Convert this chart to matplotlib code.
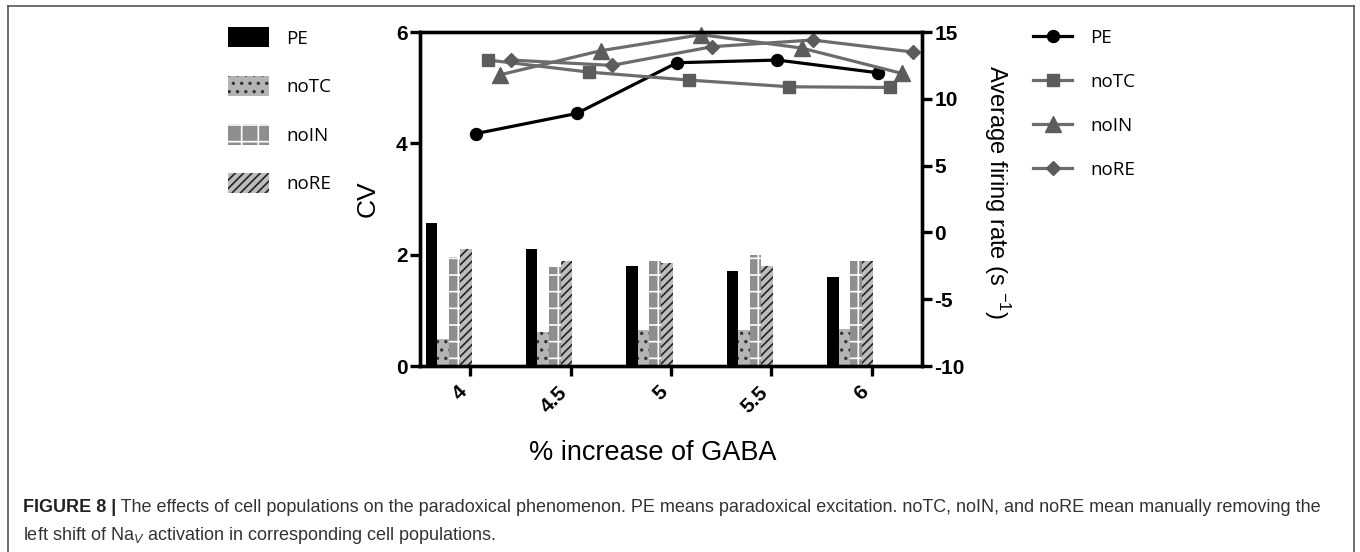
import numpy as np
import matplotlib
matplotlib.use('Agg')
import matplotlib.pyplot as plt
from matplotlib.patches import Patch
from matplotlib.lines import Line2D

# data
gaba_levels = ['4', '4.5', '5', '5.5', '6']
groups = ['PE', 'noTC', 'noIN', 'noRE']

# CV (bars, left axis)
cv_pe = [2.56, 2.10, 1.80, 1.71, 1.60]
cv_notc = [0.48, 0.61, 0.64, 0.65, 0.67]
cv_noin = [1.96, 1.77, 1.89, 1.99, 1.88]
cv_nore = [2.10, 1.89, 1.85, 1.80, 1.88]

# average firing rate (lines, right axis)
rate_pe = [7.4, 8.9, 12.7, 12.9, 11.95]
rate_notc = [12.9, 12.0, 11.4, 10.9, 10.85]
rate_noin = [11.8, 13.6, 14.8, 13.8, 11.9]
rate_nore = [12.9, 12.5, 13.9, 14.4, 13.5]

plt.rcParams['font.family'] = ['Liberation Sans', 'DejaVu Sans']
plt.rcParams['mathtext.fontset'] = 'custom'
plt.rcParams['mathtext.rm'] = 'Liberation Sans'
plt.rcParams['mathtext.it'] = 'Liberation Sans:italic'
plt.rcParams['axes.unicode_minus'] = False
plt.rcParams['hatch.linewidth'] = 1.2

W, H = 1360, 552
fig = plt.figure(figsize=(W / 100, H / 100), dpi=100)
ax = fig.add_axes([420 / W, 1 - 366 / H, (922 - 420) / W, (366 - 32) / H])
ax2 = ax.twinx()

x = np.arange(len(gaba_levels))
bw = 0.115
bar_styles = [
    dict(color='black', hatch=None, edgecolor='black'),
    dict(color='#b4b4b4', hatch='..', edgecolor='#333333'),
    dict(color='#8e8e8e', hatch='+', edgecolor='white'),
    dict(color='#bcbcbc', hatch='////', edgecolor='#222222'),
]
cv_all = [cv_pe, cv_notc, cv_noin, cv_nore]
for i, (vals, st) in enumerate(zip(cv_all, bar_styles)):
    ax.bar(x - 0.3875 + i * bw, vals, width=bw, color=st['color'],
           hatch=st['hatch'], edgecolor=st['edgecolor'], linewidth=0, zorder=2)

line_styles = [
    dict(color='black', marker='o', ms=8.6, mfc='black'),
    dict(color='#6c6c6c', marker='s', ms=8.8, mfc='#5c5c5c'),
    dict(color='#6c6c6c', marker='^', ms=11, mfc='#5c5c5c'),
    dict(color='#6c6c6c', marker='D', ms=6.8, mfc='#5c5c5c'),
]
offsets = [0.06, 0.18, 0.30, 0.41]
rate_all = [rate_pe, rate_notc, rate_noin, rate_nore]
for vals, st, off in zip(rate_all, line_styles, offsets):
    ax2.plot(x + off, vals, color=st['color'], lw=2.3, marker=st['marker'],
             ms=st['ms'], mfc=st['mfc'], mec=st['mfc'], clip_on=False)

ax.set_xlim(-0.5, 4.5)
ax.set_ylim(0, 6)
ax.set_yticks([0, 2, 4, 6])
ax2.set_ylim(-10, 15)
ax2.set_yticks([-10, -5, 0, 5, 10, 15])
ax.set_xticks(x)
ax.set_xticklabels(gaba_levels, rotation=45, ha='right')

for a in (ax, ax2):
    for s in a.spines.values():
        s.set_linewidth(2.4)
    a.tick_params(width=2.4, length=7, labelsize=15)
    for lab in a.get_xticklabels() + a.get_yticklabels():
        lab.set_fontweight('bold')
ax.tick_params(axis='x', pad=5)
ax.tick_params(axis='y', pad=2)
ax2.tick_params(axis='y', pad=2)

ax.set_ylabel('CV', fontsize=19, va='center')
ax.yaxis.set_label_coords((368 - 420) / 502, 0.5)
ax2.set_ylabel('Average firing rate (s $^{-1}$)', fontsize=17, rotation=270, va='center')
ax2.yaxis.set_label_coords((997 - 420) / 502, 0.52)
ax.set_xlabel('% increase of GABA', fontsize=19.5, va='center')
ax.xaxis.set_label_coords((653 - 420) / 502, -(453 - 366) / 334)

# legends
bar_handles = [Patch(facecolor=st['color'], hatch=st['hatch'], edgecolor=st['edgecolor'], linewidth=0)
               for st in bar_styles]
fig.legend(bar_handles, groups, loc='upper left', bbox_to_anchor=(228 / W, 1 - 27 / H),
           frameon=False, borderpad=0, borderaxespad=0, handlelength=2.2, handleheight=1.3,
           labelspacing=1.5, handletextpad=0.9, prop={'family': 'Open Sans', 'size': 13.5})

line_handles = [Line2D([], [], color=st['color'], lw=2.3, marker=st['marker'], ms=st['ms'],
                       mfc=st['mfc'], mec=st['mfc']) for st in line_styles]
fig.legend(line_handles, groups, loc='upper left', bbox_to_anchor=(1033 / W, 1 - 29 / H),
           frameon=False, borderpad=0, borderaxespad=0, handlelength=2.1,
           labelspacing=1.38, handletextpad=0.95, prop={'family': 'Open Sans', 'size': 13.5})

# figure frame lines
frame_col = '#555555'
fig.add_artist(Line2D([8 / W, 1354 / W], [1 - 6 / H, 1 - 6 / H], color=frame_col, lw=1.2))
fig.add_artist(Line2D([8 / W, 8 / W], [0, 1 - 6 / H], color=frame_col, lw=1.2))
fig.add_artist(Line2D([1354 / W, 1354 / W], [0, 1 - 6 / H], color=frame_col, lw=1.2))

# caption
cap_size = 13
cap1 = fig.text(23 / W, 1 - 512 / H, 'FIGURE 8 |', fontsize=cap_size, fontweight='bold',
                color='#222222', va='baseline')
ax.annotate(' The effects of cell populations on the paradoxical phenomenon. PE means paradoxical '
            'excitation. noTC, noIN, and noRE mean manually removing the',
            xy=(1, 0), xycoords=cap1, va='bottom', ha='left', fontsize=cap_size, color='#333333',
            annotation_clip=False)
fig.text(23 / W, 1 - 540 / H, 'left shift of Na$_{V}$ activation in corresponding cell populations.',
         fontsize=cap_size, color='#333333', va='baseline')

fig.savefig('out.png', dpi=100)
